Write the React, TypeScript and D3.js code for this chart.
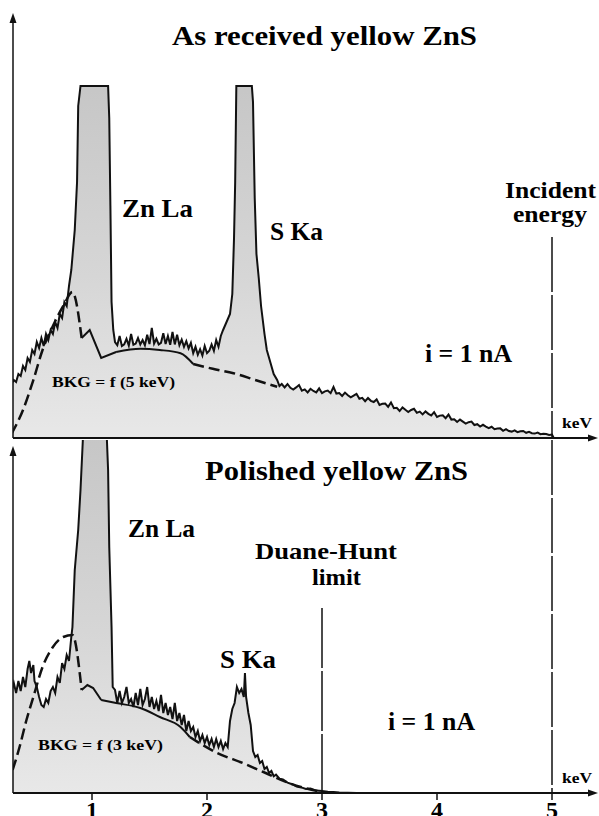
import { area, curveMonotoneX, line, scaleLinear } from "d3";

// keV tick labels on the bottom axis
const KEV_TICKS = [1, 2, 3, 4, 5];

// [keV, relative counts], as received sample
const topSpectrum: [number, number][] = [
  [0.3, 13.5], [0.32, 14.5], [0.34, 14], [0.36, 16], [0.38, 15.5], [0.4, 18], [0.42, 17],
  [0.44, 20], [0.46, 19], [0.48, 22], [0.5, 21], [0.52, 24], [0.54, 22.5], [0.56, 25],
  [0.58, 23], [0.6, 26], [0.62, 24.5], [0.64, 27], [0.66, 26], [0.68, 29], [0.7, 27.5],
  [0.72, 31], [0.74, 30], [0.76, 34], [0.78, 33], [0.8, 38], [0.82, 42],
  [0.85, 52], [0.87, 64], [0.88, 83], [0.9, 88], [1.14, 88], [1.15, 80], [1.16, 58],
  [1.17, 34], [1.185, 27], [1.2, 24],
  [1.22, 23.2], [1.24, 25.5], [1.26, 23], [1.28, 23.4], [1.3, 24.8], [1.32, 23.1], [1.34, 26],
  [1.36, 23.3], [1.38, 23.6], [1.4, 25], [1.42, 23.4], [1.44, 24.5], [1.46, 23.2], [1.48, 25.8],
  [1.5, 23.5], [1.52, 27.5], [1.54, 23.6], [1.56, 24.8], [1.58, 23.4], [1.6, 23.8], [1.62, 26.2],
  [1.64, 23.5], [1.66, 25.5], [1.68, 23.3], [1.7, 26.5], [1.72, 23.4], [1.74, 25.8], [1.76, 23.2],
  [1.78, 24.6], [1.8, 22.8], [1.82, 24.2], [1.84, 22.4], [1.86, 23.8], [1.88, 21.2], [1.9, 22.8],
  [1.92, 20.8], [1.94, 22.2], [1.96, 20.6], [1.98, 23], [2.0, 21.2], [2.02, 21.8], [2.04, 23.4],
  [2.06, 21.8], [2.08, 24.5], [2.1, 22.8], [2.12, 25.5], [2.14, 27],
  [2.17, 29], [2.2, 31], [2.22, 36], [2.235, 50], [2.245, 64], [2.255, 88], [2.39, 88],
  [2.4, 84], [2.415, 60], [2.43, 46], [2.45, 40], [2.47, 33], [2.5, 26], [2.52, 22],
  [2.55, 19], [2.58, 16], [2.61, 14.5], [2.63, 13],
  [2.65, 13.5], [2.675, 12.65], [2.7, 13.5], [2.725, 12.55], [2.75, 12.1], [2.775, 12.65],
  [2.8, 13.25], [2.825, 11.85], [2.85, 12.15], [2.875, 11.4], [2.9, 12.3], [2.925, 11.75],
  [2.95, 11.4], [2.975, 12.4], [3.0, 11.2], [3.025, 11.65], [3.05, 11.85], [3.075, 11.2],
  [3.1, 12.75], [3.125, 11.1], [3.15, 11.25], [3.175, 10.5], [3.2, 11.35], [3.225, 10.7],
  [3.25, 10.15], [3.275, 10.6], [3.3, 11.05], [3.325, 9.8], [3.35, 10.05], [3.375, 9.2],
  [3.4, 10.0], [3.425, 9.3], [3.45, 9.0], [3.475, 9.65], [3.5, 8.25], [3.525, 8.55],
  [3.55, 8.6], [3.575, 7.8], [3.6, 8.9], [3.625, 7.45], [3.65, 7.55], [3.675, 6.75],
  [3.7, 7.65], [3.725, 7.05], [3.75, 6.5], [3.775, 7.0], [3.8, 7.3], [3.825, 6.3],
  [3.85, 6.6], [3.875, 5.9], [3.9, 6.65], [3.925, 6.05], [3.95, 5.65], [3.975, 6.45],
  [4.0, 5.25], [4.025, 5.6], [4.05, 5.7], [4.075, 4.95], [4.1, 5.85], [4.125, 4.6],
  [4.15, 4.7], [4.175, 4.0], [4.2, 4.6], [4.225, 4.1], [4.25, 3.6], [4.275, 3.95],
  [4.3, 4.1], [4.325, 3.25], [4.35, 3.45], [4.375, 2.85], [4.4, 3.3], [4.425, 2.85],
  [4.45, 2.45], [4.475, 2.8], [4.5, 2.2], [4.525, 2.35], [4.55, 2.4], [4.575, 1.8],
  [4.6, 2.2], [4.625, 1.75], [4.65, 1.6], [4.675, 1.9], [4.7, 1.45], [4.725, 1.7],
  [4.75, 1.75], [4.775, 1.3], [4.8, 1.55], [4.825, 1.2], [4.85, 1.1], [4.875, 1.35],
  [4.9, 0.95], [4.925, 1.05], [4.95, 1.0], [4.975, 0.75], [5.0, 0.85], [5.015, 0],
];

// background curve BKG = f(5 keV), split in dashed / solid parts
const topBkgRise: [number, number][] = [
  [0.3, 1], [0.4, 7], [0.49, 14.5], [0.57, 22], [0.66, 28], [0.75, 33], [0.83, 36.5], [0.91, 25],
];
const topBkgMid: [number, number][] = [
  [0.91, 25], [0.98, 27], [1.08, 20], [1.21, 21.5], [1.42, 22.3], [1.59, 22], [1.77, 21.2], [1.88, 18.5],
];
const topBkgTail: [number, number][] = [
  [1.88, 18.5], [2.05, 17.3], [2.23, 16.2], [2.42, 14.5], [2.61, 12.8],
];

// polished sample
const bottomSpectrum: [number, number][] = [
  [0.3, 25.5], [0.32, 27.5], [0.34, 25], [0.36, 28], [0.38, 25.5], [0.4, 29], [0.42, 26.5],
  [0.44, 31], [0.455, 33], [0.47, 30], [0.49, 32], [0.5, 28], [0.52, 26.5], [0.54, 24],
  [0.56, 22], [0.58, 21.5], [0.6, 23.5], [0.62, 22.5], [0.64, 25.5], [0.66, 26.5], [0.68, 25],
  [0.7, 29], [0.72, 27.5], [0.74, 32.5], [0.76, 31], [0.78, 34.5], [0.8, 33], [0.82, 39],
  [0.83, 41.5], [0.85, 55.75], [0.88, 65.75], [0.9, 75.75], [0.92, 88], [0.93, 110],
  [1.12, 110], [1.13, 88], [1.14, 80.75], [1.15, 61.5], [1.17, 41.5], [1.18, 26.5], [1.2, 25.75],
  [1.22, 22.5], [1.24, 25.5], [1.26, 22.5], [1.28, 24], [1.3, 26.5], [1.32, 22.5], [1.34, 23.5],
  [1.36, 21.5], [1.38, 25], [1.4, 22], [1.42, 26], [1.44, 22], [1.46, 23.5], [1.48, 26.5],
  [1.5, 21.5], [1.52, 24], [1.54, 21], [1.56, 23], [1.58, 20.5], [1.6, 24.5], [1.62, 20],
  [1.64, 22.5], [1.66, 19.5], [1.68, 21.5], [1.7, 18.5], [1.72, 22.5], [1.74, 18], [1.76, 20],
  [1.78, 17], [1.8, 19.5], [1.82, 15.5], [1.84, 18], [1.86, 15.5], [1.88, 16.5], [1.9, 14],
  [1.92, 15.5], [1.94, 13], [1.96, 14.5], [1.98, 12.5], [2.0, 14], [2.02, 12], [2.04, 13.5],
  [2.06, 11.5], [2.08, 13.5], [2.1, 11.5], [2.12, 13], [2.14, 11], [2.16, 12.5], [2.18, 11.5],
  [2.2, 18], [2.22, 21], [2.24, 22.5], [2.26, 26.5], [2.28, 25], [2.3, 26], [2.32, 24],
  [2.33, 30], [2.34, 24], [2.36, 20], [2.38, 17], [2.4, 10.5], [2.42, 9], [2.44, 9.5],
  [2.46, 7.5], [2.48, 8], [2.5, 6], [2.52, 6.5], [2.54, 5], [2.56, 5.5], [2.58, 4.2],
  [2.6, 4.6], [2.63, 3.6], [2.66, 3.4], [2.7, 2.6], [2.74, 2.2], [2.78, 1.6], [2.82, 1.4],
  [2.86, 1.0], [2.9, 1.1], [2.95, 0.6], [3.0, 0.5], [3.05, 0.3], [3.1, 0.25], [3.15, 0.1], [3.3, 0],
];

// background curve BKG = f(3 keV)
const bottomBkgRise: [number, number][] = [
  [0.31, 5.75], [0.37, 11.5], [0.43, 18.25], [0.49, 24], [0.57, 31.5], [0.66, 36.5],
  [0.75, 39], [0.83, 39.5], [0.91, 25.75],
];
const bottomBkgMid: [number, number][] = [
  [0.91, 25.75], [0.96, 27], [1.01, 26.25], [1.08, 23.25], [1.21, 22.5], [1.42, 21.25],
  [1.59, 19], [1.77, 16.5], [1.85, 14],
];
const bottomBkgTail: [number, number][] = [
  [1.85, 14], [2.09, 10], [2.31, 7.5], [2.51, 5], [2.71, 2.5], [3.0, 0.25],
];

const W = 599;
const H = 816;
const AXIS_X = 13;
const FONT = "'Liberation Serif', 'Times New Roman', serif";

const xScale = scaleLinear().domain([1, 5]).range([92, 552]);

const Label = ({ x, y, w, size, children }) => (
  <text
    x={x}
    y={y}
    fontSize={size}
    fontWeight="bold"
    fontFamily={FONT}
    textLength={w}
    lengthAdjust="spacingAndGlyphs"
  >
    {children}
  </text>
);

const Panel = ({ id, baseline, top, spectrum, rise, mid, tail, clipTop }) => {
  const yScale = scaleLinear().domain([0, 100]).range([baseline, baseline - 400]);
  const specLine = line<[number, number]>()
    .x((d) => xScale(d[0]))
    .y((d) => yScale(d[1]));
  const specArea = area<[number, number]>()
    .x((d) => xScale(d[0]))
    .y0(baseline)
    .y1((d) => yScale(d[1]));
  const bkgLine = line<[number, number]>()
    .x((d) => xScale(d[0]))
    .y((d) => yScale(d[1]))
    .curve(curveMonotoneX);

  return (
    <g>
      <defs>
        <clipPath id={`clip-${id}`}>
          <rect x={AXIS_X} y={clipTop} width={W - AXIS_X} height={baseline - clipTop} />
        </clipPath>
        <linearGradient id={`grad-${id}`} x1="0" y1={baseline - 360} x2="0" y2={baseline} gradientUnits="userSpaceOnUse">
          <stop offset="0%" stopColor="#c6c6c6" />
          <stop offset="55%" stopColor="#d6d6d6" />
          <stop offset="100%" stopColor="#e8e8e8" />
        </linearGradient>
      </defs>
      <g clipPath={`url(#clip-${id})`}>
        <path d={specArea(spectrum)} fill={`url(#grad-${id})`} />
        <path d={specLine(spectrum)} fill="none" stroke="#111" strokeWidth={2} strokeLinejoin="miter" />
        <path d={bkgLine(rise)} fill="none" stroke="#111" strokeWidth={2.5} strokeDasharray="11 5" />
        <path d={specLine(mid.slice(0, 4))} fill="none" stroke="#111" strokeWidth={2} />
        <path d={bkgLine(mid.slice(3))} fill="none" stroke="#111" strokeWidth={2} />
        <path d={bkgLine(tail)} fill="none" stroke="#111" strokeWidth={2.5} strokeDasharray="11 5" />
      </g>
      {/* y axis */}
      <line x1={AXIS_X} x2={AXIS_X} y1={baseline} y2={top + 8} stroke="#111" strokeWidth={1.5} />
      <path d={`M${AXIS_X},${top} L${AXIS_X - 3.5},${top + 10} L${AXIS_X + 3.5},${top + 10} Z`} fill="#111" />
      {/* x axis */}
      <line x1={AXIS_X} x2={W - 8} y1={baseline} y2={baseline} stroke="#111" strokeWidth={2} />
      <path d={`M${W - 1},${baseline} L${W - 11},${baseline - 3.5} L${W - 11},${baseline + 3.5} Z`} fill="#111" />
    </g>
  );
};

export default function App() {
  const bottomY = scaleLinear().domain([0, 100]).range([793, 393]);
  return (
    <svg
      width={W}
      height={H}
      style={{ position: "absolute", left: 0, top: 0, background: "#fff" }}
    >
      <Panel
        id="top"
        baseline={438}
        top={13}
        clipTop={0}
        spectrum={topSpectrum}
        rise={topBkgRise}
        mid={topBkgMid}
        tail={topBkgTail}
      />
      <Panel
        id="bottom"
        baseline={793}
        top={446}
        clipTop={440}
        spectrum={bottomSpectrum}
        rise={bottomBkgRise}
        mid={bottomBkgMid}
        tail={bottomBkgTail}
      />

      {/* incident energy and Duane-Hunt markers */}
      <line x1={xScale(5)} x2={xScale(5)} y1={237} y2={438} stroke="#111" strokeWidth={1.5} strokeDasharray="55 3" />
      <line x1={xScale(5)} x2={xScale(5)} y1={440} y2={793} stroke="#111" strokeWidth={1.5} strokeDasharray="55 3" />
      <line x1={xScale(3)} x2={xScale(3)} y1={608} y2={793} stroke="#111" strokeWidth={1.5} strokeDasharray="60 3" />

      {/* ticks on the bottom axis */}
      {KEV_TICKS.map((k) => (
        <g key={k}>
          <line x1={xScale(k)} x2={xScale(k)} y1={793} y2={800} stroke="#111" strokeWidth={1.5} />
          <text
            x={xScale(k)}
            y={bottomY(-6.3)}
            textAnchor="middle"
            fontSize={24}
            fontWeight="bold"
            fontFamily={FONT}
          >
            {k}
          </text>
        </g>
      ))}

      {/* top panel labels */}
      <Label x={172} y={45} w={305} size={27}>As received yellow ZnS</Label>
      <Label x={122} y={217} w={71} size={25}>Zn La</Label>
      <Label x={270} y={240} w={53} size={25}>S Ka</Label>
      <Label x={505} y={198} w={91} size={23}>Incident</Label>
      <Label x={513} y={222} w={74} size={23}>energy</Label>
      <Label x={425} y={362} w={87} size={25}>i = 1 nA</Label>
      <Label x={562} y={428} w={30} size={15}>keV</Label>
      <Label x={52} y={387} w={123} size={14}>BKG = f (5 keV)</Label>

      {/* bottom panel labels */}
      <Label x={205} y={480} w={263} size={27}>Polished yellow ZnS</Label>
      <Label x={128} y={537} w={67} size={25}>Zn La</Label>
      <Label x={255} y={559} w={142} size={23}>Duane-Hunt</Label>
      <Label x={312} y={585} w={49} size={23}>limit</Label>
      <Label x={220} y={668} w={56} size={25}>S Ka</Label>
      <Label x={388} y={730} w={87} size={25}>i = 1 nA</Label>
      <Label x={562} y={783} w={30} size={15}>keV</Label>
      <Label x={38} y={750} w={125} size={14}>BKG = f (3 keV)</Label>
    </svg>
  );
}
